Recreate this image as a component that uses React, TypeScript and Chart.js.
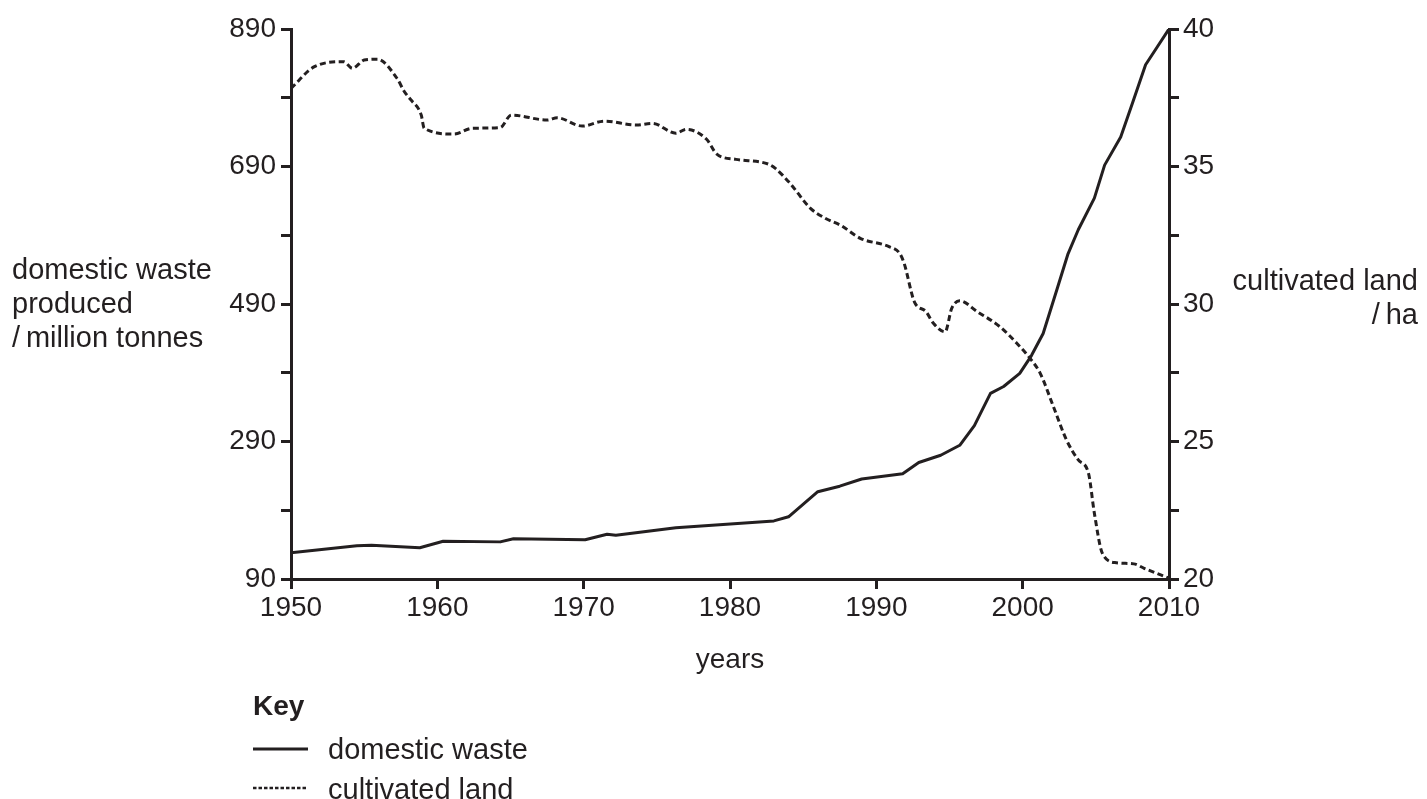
import React, { useEffect, useRef } from "react";
import { Chart, registerables } from "chart.js";

Chart.register(...registerables);

const INK = "#231f20";
const FONT = "'Liberation Sans', Arial, Helvetica, sans-serif";

// x-axis (years)
const yearTicks = [1950, 1960, 1970, 1980, 1990, 2000, 2010];

// domestic waste produced / million tonnes (left axis)
const wasteYears = [1950, 1954.5, 1955.5, 1958.8, 1960.4, 1964.3, 1965.2, 1970.1, 1971.6, 1972.2, 1976.3, 1983.0, 1984.0, 1986.0, 1987.5, 1989.0, 1991.8, 1992.9, 1994.4, 1995.7, 1996.7, 1997.8, 1998.7, 1999.8, 2000.6, 2001.4, 2002.4, 2003.1, 2003.8, 2004.9, 2005.6, 2006.7, 2007.5, 2008.4, 2010];
const wasteValues = [128, 138.5, 139, 135.5, 145, 144, 148.5, 147, 155, 153.5, 164.5, 174.5, 180.5, 217, 225, 235.5, 243, 259.5, 270, 284.5, 313, 360, 370, 389, 415, 447, 515, 563, 598, 644, 692, 733, 782, 838, 890];

// cultivated land / ha (right axis)
const landYears = [1950, 1951.6, 1953.6, 1954.2, 1955.0, 1955.9, 1957.25, 1957.75, 1958.2, 1958.9, 1959.1, 1961.15, 1962.4, 1964.3, 1965.05, 1967.5, 1968.2, 1969.9, 1971.4, 1973.6, 1974.7, 1976.3, 1977.0, 1978.4, 1979.1, 1980.4, 1982.6, 1983.1, 1984.1, 1985.5, 1986.5, 1987.6, 1988.9, 1990.9, 1991.6, 1991.9, 1992.6, 1993.4, 1993.9, 1994.7, 1995.15, 1995.7, 1996.9, 1998.45, 1999.6, 2000.6, 2001.2, 2002.1, 2003.0, 2003.8, 2004.5, 2004.9, 2005.45, 2006.4, 2007.6, 2008.3, 2010];
const landValues = [37.84, 38.63, 38.81, 38.57, 38.87, 38.9, 38.2, 37.72, 37.42, 36.87, 36.39, 36.18, 36.39, 36.42, 36.87, 36.69, 36.77, 36.47, 36.65, 36.51, 36.57, 36.21, 36.35, 35.99, 35.45, 35.26, 35.09, 34.93, 34.39, 33.48, 33.12, 32.85, 32.39, 32.08, 31.84, 31.48, 30.08, 29.72, 29.3, 28.99, 29.84, 30.12, 29.72, 29.17, 28.57, 27.96, 27.48, 26.27, 25.05, 24.33, 23.84, 22.39, 20.93, 20.59, 20.55, 20.39, 20.03];

// tick labels
const leftLabels = [90, 290, 490, 690, 890];
const rightLabels = [20, 25, 30, 35, 40];

export default function App() {
  const canvasRef = useRef<HTMLCanvasElement | null>(null);

  useEffect(() => {
    const canvas = canvasRef.current;
    if (!canvas) return;
    Chart.defaults.font.family = FONT;
    Chart.defaults.color = INK;
    const tickFont = { family: FONT, size: 28 };
    const chart = new Chart(canvas, {
      type: "line",
      data: {
        datasets: [
          {
            label: "domestic waste",
            data: wasteYears.map((x, i) => ({ x, y: wasteValues[i] })),
            yAxisID: "y",
            borderColor: INK,
            borderWidth: 3,
            pointRadius: 0,
            tension: 0,
            borderJoinStyle: "round",
            fill: false,
          },
          {
            label: "cultivated land",
            data: landYears.map((x, i) => ({ x, y: landValues[i] })),
            yAxisID: "y1",
            borderColor: INK,
            borderWidth: 3,
            borderDash: [6, 3.5],
            pointRadius: 0,
            cubicInterpolationMode: "monotone",
            fill: false,
          },
        ],
      },
      options: {
        responsive: false,
        animation: false,
        layout: { padding: { top: 29, left: 0, right: 0, bottom: 0 } },
        plugins: { legend: { display: false }, tooltip: { enabled: false } },
        scales: {
          x: {
            type: "linear",
            min: yearTicks[0],
            max: yearTicks[yearTicks.length - 1],
            afterBuildTicks: (s: any) => {
              s.ticks = yearTicks.map((v) => ({ value: v }));
            },
            ticks: {
              font: tickFont,
              color: INK,
              padding: 2,
              maxRotation: 0,
              callback: (v: any) => String(v),
            },
            grid: { drawOnChartArea: false, drawTicks: true, tickLength: 10, color: INK, lineWidth: 3 },
            border: { display: true, color: INK, width: 3 },
            afterFit: (s: any) => {
              s.height = 220;
            },
          },
          y: {
            type: "linear",
            position: "left",
            min: 90,
            max: 890,
            ticks: {
              stepSize: 100,
              font: tickFont,
              color: INK,
              padding: 5,
              callback: (v: any) => (leftLabels.includes(Number(v)) ? String(v) : ""),
            },
            grid: { drawOnChartArea: false, drawTicks: true, tickLength: 10, color: INK, lineWidth: 3 },
            border: { display: true, color: INK, width: 3 },
            afterFit: (s: any) => {
              s.width = 291;
            },
          },
          y1: {
            type: "linear",
            position: "right",
            min: 20,
            max: 40,
            ticks: {
              stepSize: 2.5,
              font: tickFont,
              color: INK,
              padding: 4,
              callback: (v: any) => (rightLabels.includes(Number(v)) ? String(v) : ""),
            },
            grid: { drawOnChartArea: false, drawTicks: true, tickLength: 10, color: INK, lineWidth: 3 },
            border: { display: true, color: INK, width: 3 },
            afterFit: (s: any) => {
              s.width = 258;
            },
          },
        },
      },
    } as any);
    return () => chart.destroy();
  }, []);

  const txt: React.CSSProperties = {
    position: "absolute",
    fontFamily: FONT,
    fontSize: 29,
    lineHeight: "34px",
    color: INK,
    whiteSpace: "nowrap",
    margin: 0,
  };

  return (
    <div style={{ position: "absolute", left: 0, top: 0, width: 1427, height: 799, background: "#fff", overflow: "hidden" }}>
      <canvas ref={canvasRef} width={1427} height={799} style={{ position: "absolute", left: 0, top: 0, width: 1427, height: 799 }} />
      <div style={{ ...txt, left: 12, top: 252 }}>
        domestic waste
        <br />
        produced
        <br />
        /{"\u2009"}million tonnes
      </div>
      <div style={{ ...txt, right: 9, top: 263, textAlign: "right" }}>
        cultivated land
        <br />
        /{"\u2009"}ha
      </div>
      <div style={{ ...txt, fontSize: 28, left: 0, width: 1460, top: 642, textAlign: "center" }}>years</div>
      <div style={{ ...txt, fontSize: 28, fontWeight: "bold", left: 253, top: 689 }}>Key</div>
      <svg style={{ position: "absolute", left: 0, top: 0 }} width={1427} height={799}>
        <line x1={253} y1={749} x2={308} y2={749} stroke={INK} strokeWidth={3} />
        <line x1={253} y1={788} x2={308} y2={788} stroke={INK} strokeWidth={2.5} strokeDasharray="3.5 2" />
      </svg>
      <div style={{ ...txt, left: 328, top: 732 }}>domestic waste</div>
      <div style={{ ...txt, left: 328, top: 772 }}>cultivated land</div>
    </div>
  );
}
